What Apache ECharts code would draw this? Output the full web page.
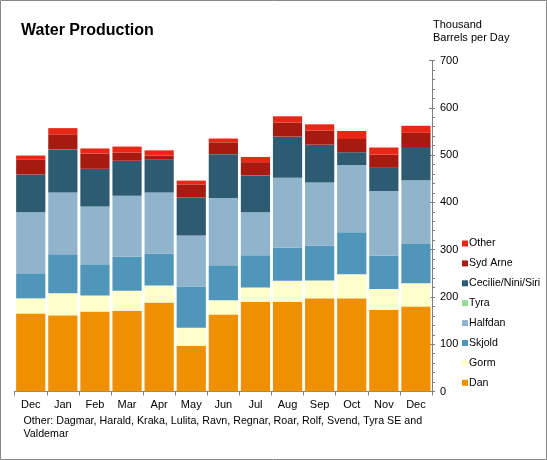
<!DOCTYPE html>
<html>
<head>
<meta charset="utf-8">
<script src="https://cdn.jsdelivr.net/npm/echarts@6/dist/echarts.min.js"></script>
<style>
html,body{margin:0;padding:0;background:#fff;}
#chart{width:547px;height:460px;}
</style>
</head>
<body>
<div id="chart"></div>
<script>
const months = ['Dec','Jan','Feb','Mar','Apr','May','Jun','Jul','Aug','Sep','Oct','Nov','Dec'];
const dan      = [165,161,169,171,188, 97,163,190,190,197,197,173,180];
const gorm     = [ 32, 47, 34, 42, 36, 38, 30, 30, 44, 38, 51, 44, 49];
const skjold   = [ 53, 82, 66, 72, 68, 87, 74, 68, 70, 74, 89, 70, 83];
const halfdan  = [129,131,122,129,129,108,142, 91,148,133,142,137,135];
const tyra     = [  0,  0,  0,  0,  0,  0,  0,  0,  0,  0,  0,  0,  0];
const cecilie  = [ 80, 91, 80, 74, 70, 80, 93, 78, 87, 80, 27, 49, 70];
const sydArne  = [ 32, 32, 32, 17,  8, 28, 25, 28, 30, 30, 28, 28, 30];
const other    = [  8, 13, 11, 13, 11,  8,  8, 11, 13, 13, 17, 15, 15];
const yTicks = [0,100,200,300,400,500,600,700];
const footnote = 'Other: Dagmar, Harald, Kraka, Lulita, Ravn, Regnar, Roar, Rolf, Svend, Tyra SE and\nValdemar';

const seriesDefs = [
  ['Dan', dan, '#EF9000'],
  ['Gorm', gorm, '#FFFFCC'],
  ['Skjold', skjold, '#5096BA'],
  ['Halfdan', halfdan, '#8FB4CC'],
  ['Tyra', tyra, '#94DE94'],
  ['Cecilie/Nini/Siri', cecilie, '#2D5B72'],
  ['Syd Arne', sydArne, '#A71A0F'],
  ['Other', other, '#E82817']
];

const font = 'Arial, "Liberation Sans", sans-serif';
const chart = echarts.init(document.getElementById('chart'), null, {renderer:'canvas'});
chart.setOption({
  animation:false,
  textStyle:{fontFamily:font},
  grid:{left:14.7, right:115, top:60.5, bottom:68.5, containLabel:false},
  graphic:[
    {type:'rect', shape:{x:0.5,y:0.5,width:546,height:459}, style:{fill:'none', stroke:'#888', lineWidth:1}, silent:true, z:-1},
    {type:'text', left:21, top:22.5, style:{text:'Water Production', font:'bold 16px '+font, fill:'#000'}},
    {type:'text', left:433, top:19, style:{text:'Thousand\nBarrels per Day', font:'11px '+font, fill:'#000', lineHeight:12.5}},
    {type:'text', left:23.5, top:415, style:{text:footnote, font:'10.7px '+font, fill:'#000', lineHeight:13}}
  ],
  legend:{
    orient:'vertical', left:457, top:232,
    itemWidth:6, itemHeight:6, itemGap:6.9,
    icon:'rect',
    textStyle:{fontSize:10.6, color:'#000', fontFamily:font, padding:[0,0,0,-4], lineHeight:13},
    data:['Other','Syd Arne','Cecilie/Nini/Siri','Tyra','Halfdan','Skjold','Gorm','Dan']
  },
  xAxis:{
    type:'category', data:months,
    axisLine:{lineStyle:{color:'#808080'}},
    axisTick:{show:true, alignWithLabel:false, length:4, lineStyle:{color:'#808080'}},
    axisLabel:{color:'#000', fontSize:11, margin:8}
  },
  yAxis:[{
    type:'value', position:'right', min:0, max:700, interval:100,
    axisLine:{show:true, lineStyle:{color:'#808080'}},
    axisTick:{show:true, length:3, lineStyle:{color:'#808080'}},
    minorTick:{show:true, splitNumber:5, length:3, lineStyle:{color:'#808080'}},
    splitLine:{show:false},
    axisLabel:{color:'#000', fontSize:11, margin:8, formatter:function(v){return yTicks.indexOf(v)>=0? String(v):'';}}
  },{
    type:'value', position:'right', min:0, max:700, interval:100,
    axisLine:{show:false},
    axisTick:{show:true, inside:true, length:3, lineStyle:{color:'#808080'}},
    splitLine:{show:false}, axisLabel:{show:false}
  }],
  series: seriesDefs.map(function(d){
    return {name:d[0], type:'bar', stack:'total', data:d[1], barCategoryGap:'9%',
      itemStyle:{color:d[2]}, emphasis:{disabled:true}};
  })
});
</script>
</body>
</html>
